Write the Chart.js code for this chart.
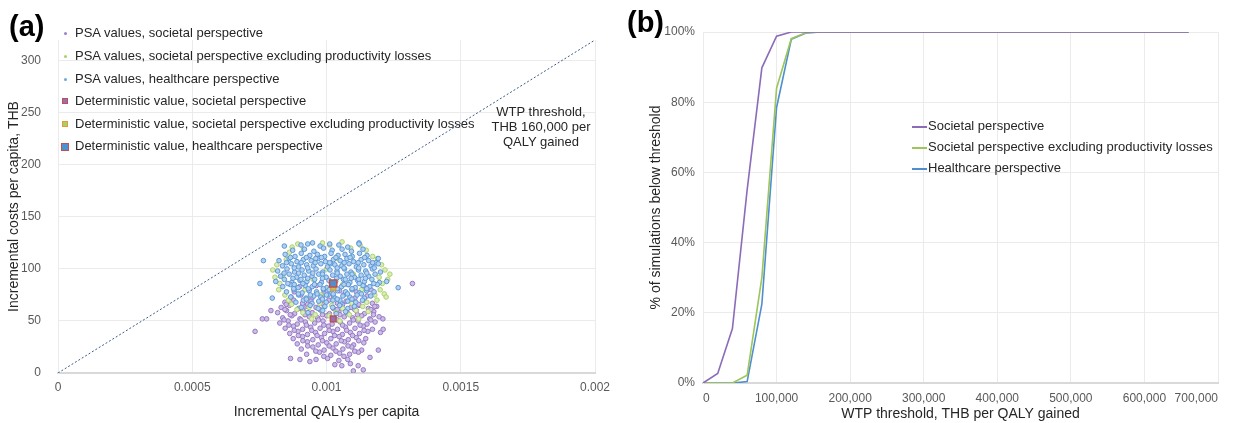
<!DOCTYPE html>
<html>
<head>
<meta charset="utf-8">
<script src="https://cdn.jsdelivr.net/npm/chart.js@4.4.1/dist/chart.umd.min.js"></script>
<style>
  body { margin: 0; background: #fff; font-family: "Liberation Sans", Arial, sans-serif; }
  #wrap { position: relative; width: 1240px; height: 423px; overflow: hidden; }
  canvas { position: absolute; top: 0; }
  .tag { position: absolute; font-weight: bold; font-size: 29px; line-height: 30px; color: #000; }
  .leg { position: absolute; font-size: 13px; color: #262626; white-space: nowrap; line-height: 16px; height: 16px; }
  .mk { position: absolute; box-sizing: border-box; }
  .note { position: absolute; font-size: 13px; color: #262626; text-align: center; line-height: 15px; }
</style>
</head>
<body>
<div id="wrap">
  <canvas id="chartA" width="620" height="423" style="left:0"></canvas>
  <canvas id="chartB" width="620" height="423" style="left:620px"></canvas>

  <div class="tag" style="left:9px;top:11px">(a)</div>
  <div class="tag" style="left:627px;top:7px">(b)</div>

  <!-- legend (a) -->
  <div class="mk" style="left:64px;top:32px;width:3px;height:3px;border-radius:50%;background:#9a82c6"></div>
  <div class="leg" style="left:75px;top:25px">PSA values, societal perspective</div>
  <div class="mk" style="left:64px;top:55px;width:3px;height:3px;border-radius:50%;background:#a9d067"></div>
  <div class="leg" style="left:75px;top:48px">PSA values, societal perspective excluding productivity losses</div>
  <div class="mk" style="left:64px;top:78px;width:3px;height:3px;border-radius:50%;background:#6fa6db"></div>
  <div class="leg" style="left:75px;top:71px">PSA values, healthcare perspective</div>
  <div class="mk" style="left:62px;top:98px;width:6px;height:6px;background:#8e72bd;border:1px solid #c0504d"></div>
  <div class="leg" style="left:75px;top:93px">Deterministic value, societal perspective</div>
  <div class="mk" style="left:62px;top:121px;width:6px;height:6px;background:#a9d067;border:1px solid #e39a3b"></div>
  <div class="leg" style="left:75px;top:116px">Deterministic value, societal perspective excluding productivity losses</div>
  <div class="mk" style="left:61px;top:143px;width:8px;height:8px;background:#4f8fd1;border:1px solid #c0504d"></div>
  <div class="leg" style="left:75px;top:138px">Deterministic value, healthcare perspective</div>

  <div class="note" style="left:486px;top:104px;width:110px">WTP threshold,<br>THB 160,000 per<br>QALY gained</div>

  <!-- legend (b) -->
  <div class="mk" style="left:912px;top:126px;width:15px;height:2px;background:#8c6bb8"></div>
  <div class="leg" style="left:928px;top:118px">Societal perspective</div>
  <div class="mk" style="left:912px;top:147px;width:15px;height:2px;background:#9cc55a"></div>
  <div class="leg" style="left:928px;top:139px">Societal perspective excluding productivity losses</div>
  <div class="mk" style="left:912px;top:168px;width:15px;height:2px;background:#4f8fd1"></div>
  <div class="leg" style="left:928px;top:160px">Healthcare perspective</div>
</div>

<script>
// Panel (a): incremental QALYs / incremental costs (THB) per capita
const wtpQaly = [0, 0.002];
const wtpCost = [0, 320];

const detSocietal = [[0.001025, 52]];
const detExcl = [[0.001025, 82]];
const detHealthcare = [[0.001025, 86]];

const psaSocietal = [
  [0.000900,83],[0.000962,84],[0.001020,82],[0.001081,85],[0.001141,83],
  [0.000880,78],[0.000936,80],[0.000991,77],[0.001049,79],[0.001111,78],[0.001166,80],
  [0.000868,73],[0.000905,75],[0.000946,72],[0.000985,74],[0.001026,73],[0.001064,75],[0.001106,72],[0.001151,74],
  [0.000845,68],[0.000878,70],[0.000911,67],[0.000942,69],[0.000976,68],[0.001009,70],[0.001041,67],[0.001073,69],[0.001104,68],[0.001139,70],[0.001171,67],
  [0.000831,63],[0.000862,65],[0.000896,62],[0.000927,64],[0.000961,63],[0.000991,65],[0.001026,62],[0.001057,64],[0.001091,63],[0.001121,65],[0.001156,62],[0.001187,64],
  [0.000818,58],[0.000851,60],[0.000881,57],[0.000916,59],[0.000947,58],[0.000981,60],[0.001011,57],[0.001046,59],[0.001077,58],[0.001111,60],[0.001141,57],[0.001176,59],
  [0.000837,53],[0.000871,55],[0.000901,52],[0.000936,54],[0.000967,53],[0.001001,55],[0.001031,52],[0.001066,54],[0.001097,53],[0.001131,55],[0.001161,52],[0.001196,54],
  [0.000826,48],[0.000857,50],[0.000891,47],[0.000921,49],[0.000956,48],[0.000987,50],[0.001021,47],[0.001051,49],[0.001086,48],[0.001117,50],[0.001151,47],[0.001181,49],
  [0.000846,43],[0.000877,45],[0.000911,42],[0.000941,44],[0.000976,43],[0.001007,45],[0.001041,42],[0.001071,44],[0.001106,43],[0.001137,45],[0.001171,42],
  [0.000863,38],[0.000894,40],[0.000929,37],[0.000959,39],[0.000993,38],[0.001024,40],[0.001059,37],[0.001089,39],[0.001123,38],[0.001154,40],[0.001201,39],
  [0.000876,33],[0.000911,35],[0.000949,32],[0.000981,34],[0.001016,33],[0.001047,35],[0.001081,32],[0.001111,34],[0.001146,33],
  [0.000891,28],[0.000929,30],[0.000969,27],[0.001001,29],[0.001036,28],[0.001067,30],[0.001101,27],[0.001139,29],
  [0.000906,23],[0.000949,25],[0.000991,22],[0.001024,24],[0.001061,23],[0.001094,25],[0.001131,22],
  [0.000926,18],[0.000974,20],[0.001016,17],[0.001049,19],[0.001086,18],[0.001119,20],
  [0.000961,13],[0.001004,14],[0.001046,12],[0.001079,13],
  [0.001031,8],[0.001089,9],
  [0.000850,66],[0.000930,66],[0.000990,66],[0.001060,66],[0.001120,66],
  [0.000845,61],[0.000910,61],[0.000975,61],[0.001040,61],[0.001105,61],[0.001165,61],
  [0.000865,56],[0.000920,56],[0.000985,56],[0.001050,56],[0.001115,56],[0.001175,56],
  [0.000842,51],[0.000905,51],[0.000970,51],[0.001040,51],[0.001100,51],[0.001165,51],
  [0.000860,46],[0.000925,46],[0.000990,46],[0.001060,46],[0.001125,46],
  [0.000880,41],[0.000945,41],[0.001010,41],[0.001075,41],[0.001140,41],
  [0.000895,36],[0.000965,36],[0.001030,36],[0.001097,36],
  [0.000912,31],[0.000985,31],[0.001055,31],[0.001120,31],
  [0.000930,26],[0.001010,26],[0.001080,26],
  [0.000960,21],[0.001035,21],[0.001105,21],
  [0.000990,16],[0.001065,16],
  [0.000734,40],[0.000761,52],[0.000777,52],[0.000793,60],[0.001320,86],[0.000866,14],[0.000901,13],
  [0.000938,11],[0.001100,2],[0.001137,3],[0.001118,7],[0.001057,7],[0.001193,22],[0.001162,15],
  [0.001211,42],[0.001210,52],[0.001180,64]
];

const psaExcl = [
  [0.000872,121],[0.000893,124],[0.000915,119],[0.000985,125],[0.001012,123],[0.001058,126],[0.001090,120],
  [0.001125,123],[0.001148,118],[0.001172,112],
  [0.001190,110],[0.001205,104],[0.001218,99],[0.001236,95],[0.001228,90],[0.001208,86],[0.001200,80],
  [0.001215,76],[0.001222,73],[0.001188,70],[0.001180,75],[0.001196,92],
  [0.000800,99],[0.000808,92],[0.000826,86],[0.000822,80],[0.000845,75],[0.000858,70],[0.000870,66],
  [0.000838,94],[0.000815,104],[0.000850,109],[0.000862,116],
  [0.000890,61],[0.000912,58],[0.000935,63],[0.000958,56],[0.000985,60],[0.001010,55],[0.001035,58],
  [0.001060,62],[0.001085,56],[0.001110,60],[0.001135,64],[0.001155,59],[0.000945,52],[0.001050,50],
  [0.001120,52],[0.000975,67],[0.001020,65],[0.001095,67],[0.001150,68],
  [0.000950,90],[0.001000,100],[0.001060,85],[0.001100,95],[0.000920,80],[0.001040,110],[0.000980,75],[0.001130,80]
];

const psaHealthcare = [
  [0.000905,123],[0.000930,124],[0.000976,122],[0.001012,124],[0.001046,123],[0.001079,121],[0.001121,125],
  [0.000874,118],[0.000918,119],[0.000953,117],[0.000989,120],[0.001021,118],[0.001058,119],[0.001093,117],[0.001136,119],
  [0.000846,114],[0.000883,112],[0.000906,115],[0.000938,113],[0.000966,114],[0.000993,112],[0.001017,115],[0.001043,113],[0.001069,114],[0.001096,112],[0.001123,115],[0.001151,113],
  [0.000823,108],[0.000861,110],[0.000890,107],[0.000914,109],[0.000943,108],[0.000969,110],[0.000996,107],[0.001026,109],[0.001051,108],[0.001076,110],[0.001101,107],[0.001129,109],[0.001157,108],[0.001184,106],
  [0.000836,103],[0.000869,105],[0.000896,102],[0.000926,104],[0.000951,103],[0.000979,105],[0.001004,102],[0.001031,104],[0.001057,103],[0.001084,105],[0.001111,102],[0.001139,104],[0.001166,103],[0.001193,105],
  [0.000818,98],[0.000853,100],[0.000881,97],[0.000909,99],[0.000934,98],[0.000961,100],[0.000986,97],[0.001013,99],[0.001039,98],[0.001067,100],[0.001091,97],[0.001119,99],[0.001146,98],[0.001171,100],[0.001201,97],
  [0.000829,93],[0.000861,95],[0.000889,92],[0.000917,94],[0.000946,93],[0.000971,95],[0.000999,92],[0.001023,94],[0.001051,93],[0.001076,95],[0.001104,92],[0.001129,94],[0.001157,93],[0.001181,95],
  [0.000811,88],[0.000843,90],[0.000871,87],[0.000901,89],[0.000927,88],[0.000956,90],[0.000981,87],[0.001009,89],[0.001034,88],[0.001063,90],[0.001087,87],[0.001116,89],[0.001141,88],[0.001169,90],[0.001197,87],
  [0.000837,83],[0.000865,85],[0.000894,82],[0.000921,84],[0.000947,83],[0.000976,85],[0.001001,82],[0.001027,84],[0.001056,83],[0.001081,85],[0.001107,82],[0.001136,84],[0.001161,83],[0.001189,85],
  [0.000851,78],[0.000879,80],[0.000909,77],[0.000935,79],[0.000963,78],[0.000989,80],[0.001017,77],[0.001041,79],[0.001071,78],[0.001095,80],[0.001123,77],[0.001149,79],[0.001177,78],
  [0.000867,73],[0.000896,75],[0.000924,72],[0.000953,74],[0.000979,73],[0.001006,75],[0.001031,72],[0.001061,74],[0.001087,73],[0.001114,75],[0.001141,72],[0.001165,74],
  [0.000886,68],[0.000914,70],[0.000946,67],[0.000971,69],[0.000999,68],[0.001024,70],[0.001053,67],[0.001079,69],[0.001109,68],[0.001134,70],
  [0.000906,63],[0.000939,65],[0.000969,62],[0.000994,64],[0.001023,63],[0.001049,65],[0.001079,62],[0.001104,64],
  [0.000931,58],[0.000986,60],[0.001036,57],[0.001071,59],
  [0.000930,101],[0.000985,95],[0.001040,101],[0.001095,95],[0.000955,85],[0.001010,80],[0.001065,85],[0.001120,90],
  [0.000905,90],[0.000960,110],[0.001015,105],[0.001070,90],[0.000880,85],[0.001000,75],[0.001050,70],[0.000940,75],
  [0.000866,111],[0.000925,111],[0.000981,111],[0.001035,111],[0.001088,111],[0.001142,111],
  [0.000851,106],[0.000906,106],[0.000958,106],[0.001012,106],[0.001066,106],[0.001118,106],[0.001172,106],
  [0.000880,101],[0.001065,101],[0.001120,101],[0.001178,101],
  [0.000842,96],[0.000896,96],[0.000949,96],[0.001040,96],[0.001150,96],
  [0.000875,91],[0.000930,91],[0.000985,91],[0.001038,91],[0.001092,91],[0.001145,91],
  [0.000856,86],[0.000912,86],[0.001018,86],[0.001122,86],[0.001176,86],
  [0.000878,81],[0.000932,81],[0.000988,81],[0.001040,81],[0.001095,81],[0.001150,81],
  [0.000895,76],[0.000965,76],[0.001025,76],[0.001078,76],[0.001130,76],
  [0.000925,71],[0.000985,71],[0.001040,71],[0.001095,71],
  [0.000765,108],[0.000752,86],[0.000798,72],[0.000843,122],[0.000948,125],[0.001121,124],[0.001267,82],[0.001224,88],[0.001193,110]
];

// Panel (b): cost-effectiveness acceptability curves
const wtpThreshold = [0,20000,40000,60000,80000,100000,120000,140000,160000,180000,200000,220000,240000,260000,280000,300000,320000,
  340000,360000,380000,400000,420000,440000,460000,480000,500000,520000,540000,560000,580000,600000,620000,640000,660000];
const ceacSocietal = [0,2.7,15.5,55,89.8,98.8,100,100,100,100,100,100,100,100,100,100,100,
  100,100,100,100,100,100,100,100,100,100,100,100,100,100,100,100,100];
const ceacExcl = [0,0,0,2.2,30,84,98.1,99.8,100,100,100,100,100,100,100,100,100,
  100,100,100,100,100,100,100,100,100,100,100,100,100,100,100,100,100];
const ceacHealthcare = [0,0,0,0.4,22.5,78.5,97.9,99.7,100,100,100,100,100,100,100,100,100,
  100,100,100,100,100,100,100,100,100,100,100,100,100,100,100,100,100];

Chart.defaults.font.family = '"Liberation Sans", Arial, sans-serif';
Chart.defaults.color = '#595959';

const gridColor = '#ebebeb';
const axisColor = '#d9d9d9';
const toXY = arr => arr.map(p => ({ x: p[0], y: p[1] }));

function psaSet(label, pts, border, fill, order) {
  return {
    label: label,
    data: toXY(pts),
    pointRadius: 2.3,
    pointBorderWidth: 1,
    pointBorderColor: border,
    pointBackgroundColor: fill,
    order: order
  };
}

// keep the plot area where the picture has it, labels may hang over the edge
function noSidePad(s) {
  s.paddingLeft = 0;
  s.paddingRight = 0;
}

const chartA = new Chart(document.getElementById('chartA').getContext('2d'), {
  type: 'scatter',
  data: {
    datasets: [
      {
        label: 'WTP threshold',
        type: 'line',
        data: wtpQaly.map((q, i) => ({ x: q, y: wtpCost[i] })),
        borderColor: '#3d5a8a',
        borderWidth: 1,
        borderDash: [2, 2],
        pointRadius: 0,
        fill: false,
        order: 10
      },
      psaSet('PSA values, societal perspective', psaSocietal, '#9478c4', '#cdbde6', 6),
      psaSet('PSA values, societal perspective excluding productivity losses', psaExcl, '#acd166', '#dcedbd', 5),
      psaSet('PSA values, healthcare perspective', psaHealthcare, '#5b97d5', '#b3d0ef', 4),
      {
        label: 'Deterministic value, societal perspective',
        data: toXY(detSocietal),
        pointStyle: 'rect', pointRadius: 4, pointBorderWidth: 1.5,
        pointBorderColor: '#c0504d', pointBackgroundColor: '#8e72bd', order: 2
      },
      {
        label: 'Deterministic value, societal perspective excluding productivity losses',
        data: toXY(detExcl),
        pointStyle: 'rect', pointRadius: 3.5, pointBorderWidth: 1.5,
        pointBorderColor: '#e39a3b', pointBackgroundColor: '#a9d067', order: 1
      },
      {
        label: 'Deterministic value, healthcare perspective',
        data: toXY(detHealthcare),
        pointStyle: 'rect', pointRadius: 5, pointBorderWidth: 1.5,
        pointBorderColor: '#c0504d', pointBackgroundColor: '#4f8fd1', order: 0
      }
    ]
  },
  options: {
    responsive: false,
    animation: false,
    layout: { padding: { top: 40, right: 25, left: 0, bottom: 0 } },
    plugins: { legend: { display: false }, tooltip: { enabled: false } },
    scales: {
      x: {
        type: 'linear',
        min: 0,
        max: 0.002,
        ticks: {
          stepSize: 0.0005,
          padding: 7,
          font: { size: 12 },
          callback: v => v === 0 ? '0' : String(+v.toFixed(4))
        },
        grid: { color: gridColor, drawTicks: false },
        border: { color: axisColor, width: 2 },
        title: {
          display: true,
          text: 'Incremental QALYs per capita',
          color: '#262626',
          font: { size: 14 },
          padding: { top: 0, bottom: 2 }
        },
        afterFit: s => { s.height = 50; noSidePad(s); }
      },
      y: {
        min: 0,
        max: 320,
        ticks: { stepSize: 50, padding: 17, font: { size: 12 } },
        afterBuildTicks: s => { s.ticks = s.ticks.filter(t => t.value <= 300); },
        grid: { color: gridColor, drawTicks: false },
        border: { color: gridColor, width: 1 },
        title: {
          display: true,
          text: 'Incremental costs per capita, THB',
          color: '#262626',
          font: { size: 14 },
          padding: { top: 6, bottom: 0 }
        },
        afterFit: s => { s.width = 58; }
      }
    }
  }
});

const chartB = new Chart(document.getElementById('chartB').getContext('2d'), {
  type: 'line',
  data: {
    datasets: [
      {
        label: 'Societal perspective',
        data: wtpThreshold.map((w, i) => ({ x: w, y: ceacSocietal[i] })),
        borderColor: '#8c6bb8', borderWidth: 1.6, pointRadius: 0, tension: 0
      },
      {
        label: 'Societal perspective excluding productivity losses',
        data: wtpThreshold.map((w, i) => ({ x: w, y: ceacExcl[i] })),
        borderColor: '#9cc55a', borderWidth: 1.6, pointRadius: 0, tension: 0
      },
      {
        label: 'Healthcare perspective',
        data: wtpThreshold.map((w, i) => ({ x: w, y: ceacHealthcare[i] })),
        borderColor: '#4f8fd1', borderWidth: 1.6, pointRadius: 0, tension: 0
      }
    ]
  },
  options: {
    responsive: false,
    animation: false,
    layout: { padding: { top: 32, right: 22, left: 0, bottom: 0 } },
    plugins: { legend: { display: false }, tooltip: { enabled: false } },
    scales: {
      x: {
        type: 'linear',
        min: 0,
        max: 700000,
        ticks: { stepSize: 100000, padding: 8, font: { size: 12 }, align: 'inner' },
        grid: { color: gridColor, drawTicks: false },
        border: { color: axisColor, width: 2 },
        title: {
          display: true,
          text: 'WTP threshold, THB per QALY gained',
          color: '#262626',
          font: { size: 14 },
          padding: { top: 0, bottom: 0 }
        },
        afterFit: s => { s.height = 40; noSidePad(s); }
      },
      y: {
        min: 0,
        max: 100,
        ticks: { stepSize: 20, padding: 8, font: { size: 12 }, callback: v => v + '%' },
        grid: { color: gridColor, drawTicks: false },
        border: { color: gridColor, width: 1 },
        title: {
          display: true,
          text: '% of simulations below threshold',
          color: '#262626',
          font: { size: 14 },
          padding: { top: 28, bottom: 0 }
        },
        afterFit: s => { s.width = 83; }
      }
    }
  }
});
</script>
</body>
</html>
